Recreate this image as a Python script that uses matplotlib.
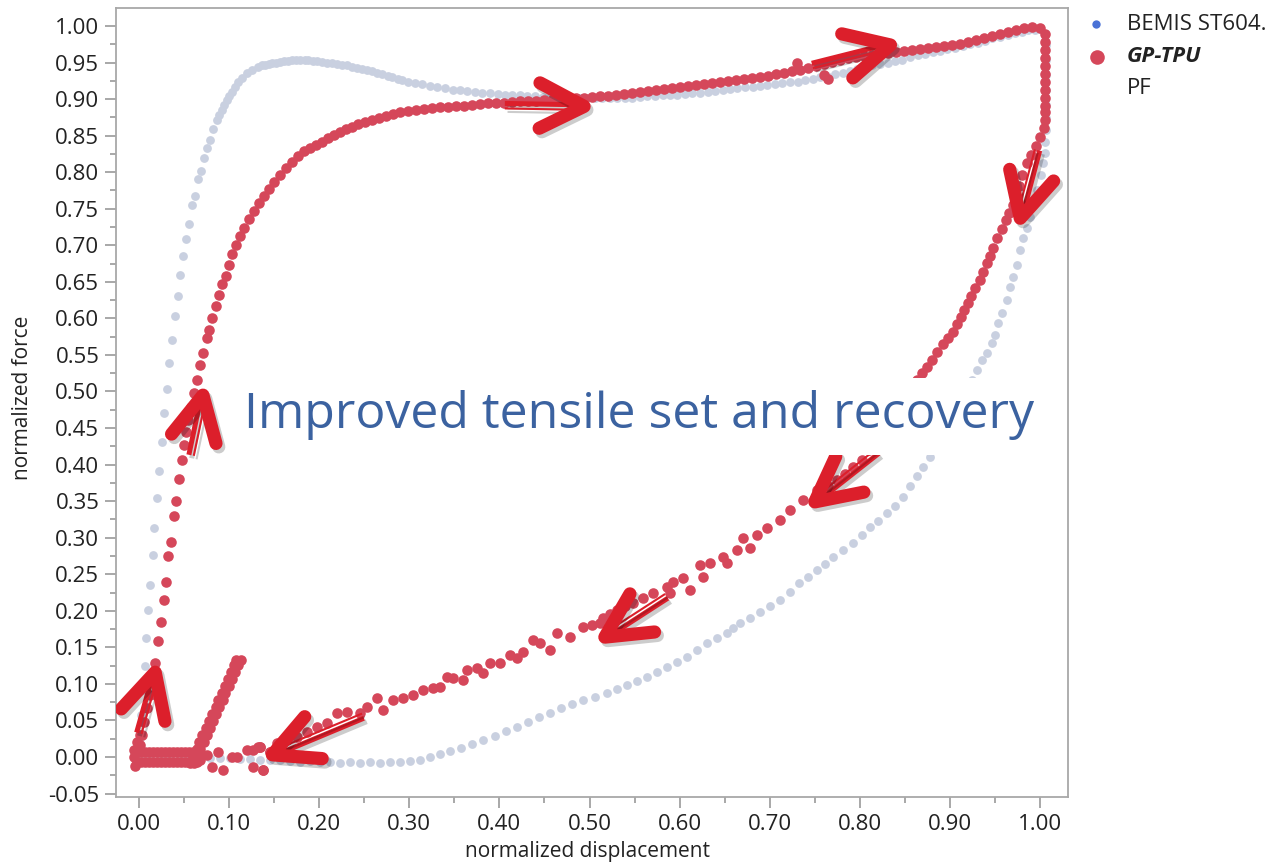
import matplotlib
matplotlib.use("Agg")
import matplotlib.pyplot as plt
import matplotlib.patheffects as pe
from matplotlib.patches import Rectangle
from matplotlib.lines import Line2D
from matplotlib.ticker import MultipleLocator, FormatStrFormatter
import numpy as np

plt.rcParams['font.family'] = ['Open Sans', 'DejaVu Sans']
plt.rcParams['axes.unicode_minus'] = False

# ---- BEMIS ST604 (normalized displacement, normalized force) ----
bemis_rise = [(0.001,0.026),(0.002,0.057),(0.003,0.092),(0.007,0.124),(0.008,0.163),(0.010,0.201),
    (0.012,0.235),(0.016,0.276),(0.017,0.313),(0.020,0.354),(0.022,0.391),(0.026,0.431),(0.028,0.471),
    (0.031,0.503),(0.033,0.539),(0.037,0.570),(0.040,0.603),(0.043,0.631),(0.046,0.659),(0.049,0.685),
    (0.052,0.709),(0.055,0.729),(0.059,0.755),(0.062,0.767),(0.065,0.791),(0.069,0.802),(0.072,0.819),
    (0.075,0.833),(0.079,0.844),(0.082,0.859),(0.087,0.871),(0.089,0.878),(0.092,0.885),(0.094,0.892),
    (0.098,0.899),(0.100,0.904),(0.103,0.910),(0.107,0.917),(0.110,0.923),(0.114,0.929),(0.120,0.936),
    (0.125,0.940),(0.132,0.944),(0.136,0.946),(0.140,0.947),(0.144,0.948),(0.148,0.949),(0.152,0.950),
    (0.156,0.951),(0.161,0.952),(0.165,0.952),(0.170,0.953),(0.174,0.953),(0.179,0.953),(0.184,0.953),
    (0.188,0.953),(0.193,0.952),(0.198,0.952),(0.203,0.951),(0.209,0.950),(0.214,0.949),(0.220,0.948),
    (0.225,0.947),(0.231,0.946),(0.236,0.944),(0.242,0.943),(0.247,0.941),(0.253,0.940),(0.259,0.938),
    (0.264,0.936),(0.270,0.934),(0.276,0.932),(0.281,0.930),(0.287,0.928),(0.292,0.926),(0.299,0.924),
    (0.306,0.922)]
bemis_plateau = [(0.314,0.920),(0.323,0.918),(0.331,0.917),(0.340,0.915),(0.348,0.913),(0.356,0.912),
    (0.364,0.911),(0.373,0.910),(0.381,0.909),(0.390,0.908),(0.398,0.907),(0.406,0.906),(0.414,0.906),
    (0.423,0.905),(0.431,0.904),(0.440,0.904),(0.448,0.903),(0.456,0.903),(0.464,0.902),(0.473,0.902),
    (0.481,0.902),(0.489,0.902),(0.497,0.901),(0.506,0.902),(0.514,0.902),(0.523,0.902),(0.531,0.901),
    (0.539,0.902),(0.547,0.902),(0.556,0.903),(0.564,0.904),(0.573,0.904),(0.581,0.905),(0.589,0.906),
    (0.597,0.906),(0.606,0.907),(0.614,0.908),(0.623,0.909),(0.631,0.910),(0.639,0.911),(0.648,0.912),
    (0.656,0.914),(0.664,0.915),(0.673,0.916),(0.681,0.917),(0.689,0.918),(0.697,0.919),(0.706,0.921),
    (0.714,0.922),(0.723,0.923),(0.731,0.924),(0.739,0.926),(0.748,0.928),(0.756,0.930),(0.764,0.932),
    (0.772,0.934),(0.781,0.936),(0.789,0.938),(0.797,0.941),(0.806,0.944),(0.814,0.946),(0.822,0.948),
    (0.831,0.950),(0.839,0.952),(0.847,0.954),(0.856,0.958),(0.864,0.960),(0.872,0.962),(0.881,0.964),
    (0.889,0.966),(0.897,0.968),(0.906,0.970),(0.914,0.972),(0.922,0.975),(0.931,0.977),(0.939,0.980),
    (0.947,0.983),(0.956,0.985),(0.964,0.988),(0.972,0.990),(0.980,0.992),(0.987,0.994),(0.994,0.995),
    (1.000,0.996)]
bemis_unload = [(1.007,0.974),(1.007,0.953),(1.007,0.933),(1.007,0.912),(1.007,0.892),(1.007,0.874),
    (1.007,0.858),(1.006,0.841),(1.006,0.826),(1.003,0.812),(1.001,0.796),(0.997,0.776),(0.992,0.755),
    (0.989,0.739),(0.986,0.724),(0.981,0.710),(0.978,0.694),(0.974,0.673),(0.970,0.657),(0.967,0.643),
    (0.963,0.625),(0.958,0.607),(0.953,0.594),(0.950,0.577),(0.947,0.566),(0.941,0.553),(0.936,0.543),
    (0.930,0.529),(0.925,0.516),(0.918,0.495),(0.911,0.475),(0.903,0.454),(0.895,0.434),(0.878,0.410),
    (0.870,0.397),(0.863,0.384),(0.856,0.371),(0.848,0.356),(0.839,0.343),(0.830,0.334),(0.820,0.323),
    (0.811,0.315),(0.802,0.304),(0.792,0.293),(0.781,0.283),(0.770,0.274),(0.761,0.264),(0.752,0.256),
    (0.742,0.246),(0.733,0.238),(0.723,0.226),(0.711,0.215),(0.700,0.207),(0.689,0.198),(0.678,0.190),
    (0.667,0.183),(0.659,0.176),(0.653,0.170),(0.642,0.163),(0.630,0.156),(0.619,0.146),(0.608,0.137),
    (0.597,0.130),(0.586,0.123),(0.575,0.116),(0.564,0.109),(0.553,0.104),(0.542,0.098),(0.531,0.093),
    (0.519,0.088),(0.506,0.082),(0.493,0.078),(0.481,0.073),(0.468,0.067),(0.456,0.060),(0.444,0.055),
    (0.432,0.048),(0.420,0.041),(0.407,0.036),(0.395,0.029),(0.382,0.023),(0.370,0.018),(0.357,0.012),
    (0.345,0.008),(0.334,0.004),(0.323,0.000),(0.312,-0.004),(0.301,-0.005),(0.290,-0.007),(0.279,-0.007),
    (0.267,-0.008),(0.256,-0.007),(0.245,-0.008),(0.234,-0.007),(0.223,-0.008),(0.212,-0.007),(0.201,-0.007),
    (0.190,-0.005),(0.179,-0.007),(0.168,-0.005),(0.156,-0.004),(0.145,-0.004),(0.134,-0.004),(0.123,-0.003),
    (0.112,-0.003),(0.101,-0.001),(0.090,-0.001),(0.079,-0.001),(0.068,-0.001),(0.057,0.000),(0.046,0.000),
    (0.034,0.000),(0.023,0.000),(0.012,0.000),(0.001,0.000)]

# ---- GP-TPU ----
gp_base = [(-0.005,0.000),(-0.005,0.010),(-0.004,-0.012),(-0.002,0.021),(0.001,0.030),
    (-0.002,0.007),(0.002,0.007),(0.007,0.007),(0.011,0.007),(0.016,0.007),(0.020,0.007),(0.024,0.007),
    (0.029,0.007),(0.033,0.007),(0.038,0.007),(0.042,0.007),(0.047,0.007),(0.051,0.007),(0.055,0.007),
    (0.060,0.007),(0.064,0.007),
    (-0.002,-0.007),(0.002,-0.007),(0.007,-0.007),(0.011,-0.007),(0.016,-0.007),(0.020,-0.007),(0.024,-0.007),
    (0.029,-0.007),(0.033,-0.007),(0.038,-0.007),(0.042,-0.007),(0.047,-0.007),(0.051,-0.007),(0.055,-0.007),
    (0.060,-0.007),(0.064,-0.007)]
gp_reload = [(0.057,-0.008),(0.061,-0.008),(0.060,0.001),(0.065,0.001),(0.064,0.011),(0.068,0.011),
    (0.067,0.021),(0.072,0.021),(0.070,0.030),(0.075,0.030),(0.074,0.040),(0.079,0.040),(0.078,0.049),
    (0.082,0.049),(0.081,0.059),(0.086,0.059),(0.085,0.068),(0.089,0.068),(0.088,0.078),(0.093,0.078),
    (0.092,0.088),(0.096,0.088),(0.095,0.097),(0.100,0.097),(0.099,0.107),(0.103,0.107),(0.102,0.116),
    (0.107,0.116),(0.105,0.126),(0.110,0.126),(0.108,0.133),(0.113,0.133)]
gp_tail = [(0.068,-0.004),(0.075,0.003),(0.081,-0.014),(0.088,0.007),(0.093,-0.018),(0.103,0.000),
    (0.109,0.000),(0.120,0.010),(0.132,0.014),(0.127,-0.014),(0.138,-0.018),(0.134,0.014),(0.145,0.007)]
gp_rise = [(0.001,0.016),(0.003,0.030),(0.006,0.048),(0.009,0.067),(0.012,0.085),(0.016,0.105),
    (0.018,0.129),(0.021,0.159),(0.024,0.185),(0.028,0.215),(0.030,0.239),(0.032,0.275),(0.036,0.294),
    (0.039,0.330),(0.041,0.350),(0.044,0.380),(0.048,0.406),(0.050,0.427),(0.052,0.445),(0.054,0.461),
    (0.058,0.479),(0.061,0.498),(0.064,0.516),(0.068,0.536),(0.071,0.553),(0.075,0.573),(0.078,0.584),
    (0.081,0.601),(0.085,0.617),(0.089,0.632),(0.092,0.647),(0.097,0.658),(0.100,0.673),(0.103,0.688),
    (0.108,0.700),(0.112,0.713),(0.117,0.724),(0.122,0.736),(0.128,0.747),(0.133,0.758),(0.139,0.767),
    (0.144,0.777),(0.150,0.787),(0.156,0.796),(0.163,0.806),(0.170,0.814),(0.176,0.822),(0.183,0.829),
    (0.190,0.833),(0.196,0.837),(0.203,0.841),(0.210,0.847),(0.216,0.851),(0.223,0.855),(0.230,0.859),
    (0.236,0.862),(0.243,0.866),(0.251,0.869),(0.259,0.871),(0.266,0.874),(0.274,0.877),(0.282,0.880),
    (0.290,0.882),(0.299,0.884),(0.307,0.885)]
gp_plateau = [(0.316,0.886),(0.325,0.888),(0.334,0.889),(0.343,0.889),(0.352,0.891),(0.361,0.891),
    (0.370,0.892),(0.378,0.893),(0.387,0.894),(0.396,0.895),(0.405,0.895),(0.414,0.896),(0.423,0.897),
    (0.432,0.897),(0.441,0.898),(0.450,0.899),(0.458,0.899),(0.467,0.900),(0.476,0.901),(0.485,0.902),
    (0.494,0.902),(0.503,0.903),(0.512,0.904),(0.521,0.904),(0.529,0.906),(0.538,0.907),(0.547,0.908),
    (0.556,0.910),(0.565,0.911),(0.574,0.912),(0.583,0.914),(0.592,0.915),(0.600,0.917),(0.609,0.918),
    (0.618,0.919),(0.627,0.921),(0.636,0.922),(0.645,0.923),(0.654,0.925),(0.663,0.926),(0.671,0.928),
    (0.680,0.929),(0.689,0.930),(0.698,0.932),(0.707,0.934),(0.716,0.936),(0.725,0.938),(0.734,0.940),
    (0.743,0.943),(0.751,0.945),(0.760,0.948),(0.769,0.951),(0.778,0.953),(0.787,0.956),(0.796,0.958),
    (0.805,0.959),(0.814,0.960),(0.822,0.962),(0.831,0.963),(0.840,0.964),(0.849,0.966),(0.858,0.967),
    (0.867,0.969),(0.876,0.970),(0.885,0.971),(0.893,0.973),(0.902,0.974),(0.911,0.975),(0.920,0.978),
    (0.929,0.981),(0.938,0.984),(0.947,0.986),(0.956,0.989),(0.964,0.992),(0.973,0.995),(0.982,0.997),
    (0.991,0.999),(1.000,0.997),(0.730,0.949),(0.760,0.933),(0.765,0.927)]
gp_unload = [(1.006,0.989),(1.006,0.978),(1.006,0.967),(1.006,0.956),(1.006,0.945),(1.006,0.934),
    (1.006,0.923),(1.006,0.912),(1.006,0.902),(1.006,0.891),(1.006,0.882),(1.006,0.871),(1.004,0.860),
    (1.000,0.848),(0.996,0.836),(0.990,0.824),(0.986,0.813),(0.980,0.796),(0.977,0.781),(0.973,0.767),
    (0.970,0.755),(0.966,0.744),(0.962,0.735),(0.958,0.722),(0.952,0.710),(0.948,0.696),(0.944,0.685),
    (0.941,0.676),(0.937,0.663),(0.933,0.653),(0.928,0.642),(0.923,0.631),(0.920,0.621),(0.916,0.611),
    (0.912,0.602),(0.908,0.592),(0.903,0.581),(0.898,0.573),(0.892,0.565),(0.886,0.554),(0.880,0.543),
    (0.875,0.534),(0.869,0.525),(0.863,0.516),(0.850,0.492),(0.837,0.468),(0.824,0.445),(0.810,0.420),
    (0.802,0.406),(0.792,0.397),(0.784,0.387),(0.775,0.379),(0.765,0.371),(0.752,0.365),(0.737,0.352),
    (0.723,0.338),(0.711,0.324),(0.697,0.313),(0.686,0.304),(0.670,0.300),(0.678,0.286),(0.664,0.283),
    (0.648,0.274),(0.653,0.265),(0.634,0.265),(0.623,0.263),(0.626,0.246),(0.612,0.228),(0.604,0.245),
    (0.593,0.239),(0.586,0.233),(0.589,0.224),(0.570,0.224),(0.559,0.218),(0.548,0.211),(0.539,0.207),
    (0.531,0.201),(0.523,0.196),(0.515,0.190),(0.512,0.183),(0.503,0.181),(0.493,0.178),(0.478,0.164),
    (0.464,0.170),(0.456,0.146),(0.445,0.156),(0.437,0.160),(0.426,0.144),(0.420,0.135),(0.412,0.140),
    (0.401,0.129),(0.390,0.129),(0.382,0.115),(0.375,0.122),(0.364,0.119),(0.360,0.105),(0.349,0.108),
    (0.342,0.109),(0.334,0.096),(0.326,0.094),(0.315,0.092),(0.304,0.085),(0.293,0.081),(0.282,0.078),
    (0.271,0.064),(0.264,0.081),(0.253,0.068),(0.245,0.060),(0.231,0.062),(0.220,0.060),(0.209,0.047),
    (0.198,0.041),(0.186,0.034),(0.175,0.027),(0.164,0.023),(0.153,0.019),(0.145,0.007),(0.134,0.014),
    (0.127,0.010),(0.138,-0.018)]

# direction arrows: (tip, tail) in data units
arrows = [((0.018,0.116),(-0.001,0.033)), ((0.071,0.495),(0.057,0.413)),
          ((0.494,0.890),(0.406,0.892)), ((0.834,0.974),(0.747,0.947)),
          ((0.978,0.737),(0.998,0.830)), ((0.750,0.349),(0.820,0.417)),
          ((0.517,0.164),(0.586,0.219)), ((0.148,0.003),(0.249,0.055))]

GRAY = '#c9d0e0'
RED = '#d5475a'
ARROW = '#dc1f2b'
TEXT = '#222222'

fig = plt.figure(figsize=(12.7, 8.68), dpi=100)
ax = fig.add_axes([116/1270, 71/868, 952/1270, 789/868])

b = np.array(bemis_rise + bemis_plateau + bemis_unload)
g = np.array(gp_base + gp_reload + gp_tail + gp_rise + gp_plateau + gp_unload)
ax.scatter(b[:, 0], b[:, 1], s=40, c=GRAY, linewidths=0, zorder=2)
ax.scatter(g[:, 0], g[:, 1], s=58, c=RED, linewidths=0, zorder=3)

ax.set_xlim(-0.0255, 1.031)
ax.set_ylim(-0.0547, 1.0246)
ax.xaxis.set_major_locator(MultipleLocator(0.1))
ax.xaxis.set_minor_locator(MultipleLocator(0.05))
ax.yaxis.set_major_locator(MultipleLocator(0.05))
ax.yaxis.set_minor_locator(MultipleLocator(0.025))
ax.xaxis.set_major_formatter(FormatStrFormatter('%.2f'))
ax.yaxis.set_major_formatter(FormatStrFormatter('%.2f'))
ax.tick_params(which='major', length=8, width=1.2, color='#9a9a9a', labelsize=16, labelcolor=TEXT, pad=4)
ax.tick_params(which='minor', length=4, width=1.2, color='#9a9a9a')
for sp in ax.spines.values():
    sp.set_color('#a8a8a8')
    sp.set_linewidth(1.3)

ax.set_xlabel('normalized displacement', fontsize=15, color=TEXT)
ax.set_ylabel('normalized force', fontsize=15, color=TEXT)
ax.xaxis.set_label_coords(0.495, -0.0697)
ax.xaxis.label.set_verticalalignment('center')
ax.yaxis.set_label_coords(-0.0987, 0.5057)
ax.yaxis.label.set_verticalalignment('center')

# hand-drawn style arrows with a soft shadow
shadow = [pe.SimpleLineShadow(offset=(2, -2.5), shadow_color='k', alpha=0.2), pe.Normal()]
inv = ax.transData.inverted()
for tip, tail in arrows:
    t = ax.transData.transform(tip)
    s = ax.transData.transform(tail)
    u = (t - s) / np.hypot(*(t - s))
    n = np.array([-u[1], u[0]])
    arms = []
    for a in (np.deg2rad(27), -np.deg2rad(27)):
        back = np.array([-u[0] * np.cos(a) + u[1] * np.sin(a), -u[0] * np.sin(a) - u[1] * np.cos(a)])
        arms.append(t + 50 * back)
    shaft1 = inv.transform(np.array([s + 1.5 * n, t + 1.5 * n - 8 * u]))
    shaft2 = inv.transform(np.array([s - 3.5 * n, t - 3.5 * n - 12 * u]))
    head = inv.transform(np.array([arms[0], t, arms[1]]))
    ax.plot(shaft1[:, 0], shaft1[:, 1], color=ARROW, lw=3.6, solid_capstyle='butt', path_effects=shadow, zorder=4)
    ax.plot(shaft2[:, 0], shaft2[:, 1], color=ARROW, lw=1.5, solid_capstyle='butt', path_effects=shadow, zorder=4)
    ax.plot(head[:, 0], head[:, 1], color=ARROW, lw=9.5, solid_capstyle='round', solid_joinstyle='round',
            path_effects=shadow, zorder=4)

ax.add_patch(Rectangle((0.112, 0.413), 0.888, 0.105, facecolor='white', edgecolor='none', zorder=5))
ax.text(0.555, 0.468, 'Improved tensile set and recovery', fontsize=36, color='#3b62a0',
        ha='center', va='center', zorder=6)

# legend
fig.add_artist(Line2D([1096/1270], [1 - 24/868], marker='o', ms=6, color='#4a72d6', mec='none', lw=0))
fig.add_artist(Line2D([1097/1270], [1 - 57/868], marker='o', ms=10.5, color=RED, mec='none', lw=0))
fig.text(1127/1270, 1 - 25/868, 'BEMIS ST604.', fontsize=16, color=TEXT, va='center')
fig.text(1127/1270, 1 - 57/868, 'GP-TPU', fontsize=16, color=TEXT, va='center', weight='bold', style='italic')
fig.text(1127/1270, 1 - 88/868, 'PF', fontsize=16, color=TEXT, va='center')

fig.savefig('out.png', dpi=100)
